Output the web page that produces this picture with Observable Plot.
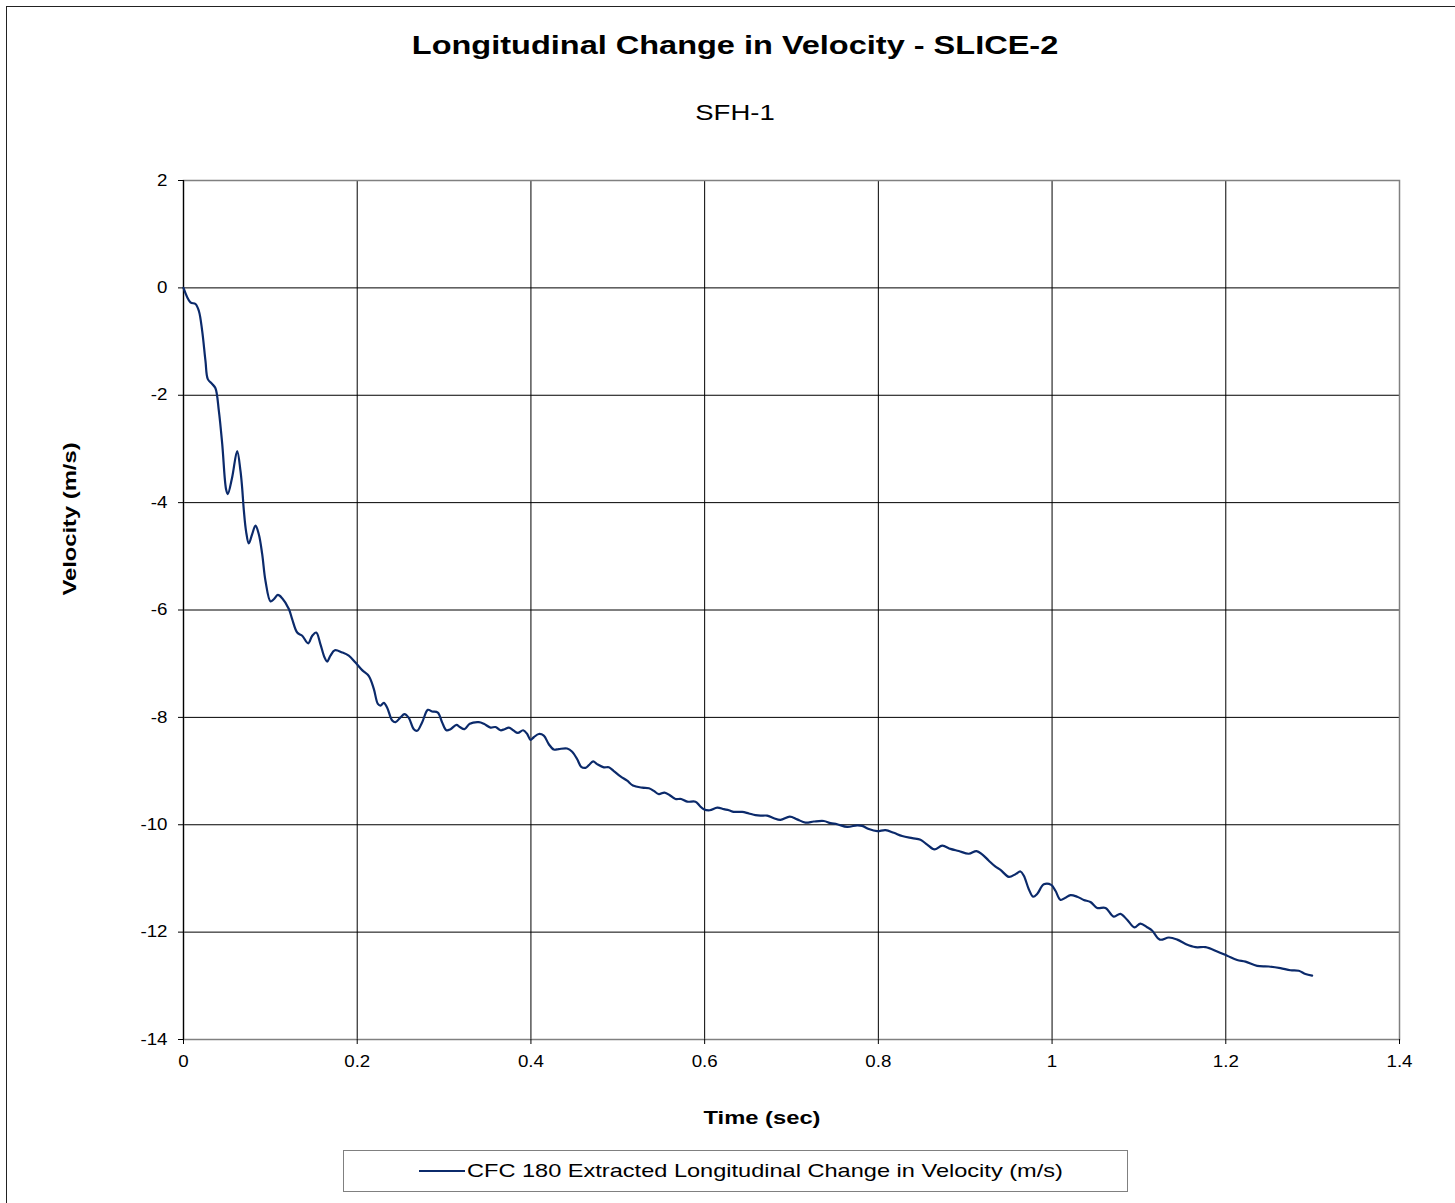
<!DOCTYPE html>
<html>
<head>
<meta charset="utf-8">
<script src="https://cdn.jsdelivr.net/npm/d3@7"></script>
<script src="https://cdn.jsdelivr.net/npm/@observablehq/plot@0.6"></script>
<style>
  html, body { margin: 0; padding: 0; background: #fff; overflow: hidden; }
  body { width: 1455px; height: 1203px; position: relative; font-family: "Liberation Sans", Arial, sans-serif; }
  #frame { position: absolute; left: 6px; top: 6px; width: 1460px; height: 1210px; border: 1px solid #222; box-sizing: border-box; }
  .centered { position: absolute; white-space: nowrap; color: #000; }
  #title { left: 735px; top: 45px; transform: translate(-50%, -50%) scaleX(1.25); font-weight: bold; font-size: 26px; }
  #subtitle { left: 735px; top: 113px; transform: translate(-50%, -50%) scaleX(1.25); font-size: 22px; }
  #chart { position: absolute; left: 0; top: 0; }
  #ylabel { left: 70px; top: 519px; transform: translate(-50%, -50%) rotate(-90deg) scaleX(1.25); font-weight: bold; font-size: 19px; }
  #xlabel { left: 762px; top: 1118px; transform: translate(-50%, -50%) scaleX(1.25); font-weight: bold; font-size: 19px; }
  #legend { position: absolute; left: 343px; top: 1150px; width: 785px; height: 42px; border: 1px solid #808080; box-sizing: border-box; display: flex; align-items: center; }
  #legend .swatch { margin-left: 75px; width: 46px; height: 0; border-top: 2px solid #0b2a6b; }
  #legend .txt { margin-left: 2px; font-size: 19px; color: #000; white-space: nowrap; transform: scaleX(1.24); transform-origin: left center; }
</style>
</head>
<body>
<div id="frame"></div>
<div id="title" class="centered">Longitudinal Change in Velocity - SLICE-2</div>
<div id="subtitle" class="centered">SFH-1</div>
<div id="chart"></div>
<div id="ylabel" class="centered">Velocity (m/s)</div>
<div id="xlabel" class="centered">Time (sec)</div>
<div id="legend"><div class="swatch"></div><div class="txt">CFC 180 Extracted Longitudinal Change in Velocity (m/s)</div></div>
<script>
const seriesName = "CFC 180 Extracted Longitudinal Change in Velocity (m/s)";
const xTicks = [0, 0.2, 0.4, 0.6, 0.8, 1, 1.2, 1.4];
const yTicks = [2, 0, -2, -4, -6, -8, -10, -12, -14];

const timeSec = [
  0, 0.008, 0.0138, 0.0177, 0.0215, 0.0253, 0.028, 0.033, 0.0368, 0.0407,
  0.0446, 0.049, 0.051, 0.056, 0.0618, 0.0656, 0.0675, 0.0695, 0.072, 0.0752,
  0.079, 0.0829, 0.0867, 0.0906, 0.0944, 0.1002, 0.104, 0.1086, 0.1136, 0.1213,
  0.1251, 0.1309, 0.1367, 0.1436, 0.1482, 0.1528, 0.1577, 0.1623, 0.1654, 0.1692,
  0.1742, 0.1827, 0.1903, 0.198, 0.2057, 0.2134, 0.2191, 0.2238, 0.2268, 0.2306,
  0.2345, 0.2403, 0.2441, 0.2498, 0.2544, 0.2594, 0.2652, 0.269, 0.2748, 0.2813,
  0.2863, 0.2928, 0.2977, 0.3027, 0.3074, 0.3143, 0.3181, 0.3235, 0.3296, 0.34,
  0.3458, 0.3535, 0.3592, 0.365, 0.3696, 0.3746, 0.3796, 0.3849, 0.391, 0.3957,
  0.3995, 0.4033, 0.4091, 0.4148, 0.4206, 0.4264, 0.4321, 0.4417, 0.4475, 0.4533,
  0.4579, 0.4628, 0.4667, 0.4716, 0.4762, 0.4839, 0.4897, 0.4954, 0.5031, 0.5108,
  0.5174, 0.5281, 0.5358, 0.5415, 0.5473, 0.5538, 0.5607, 0.5664, 0.5730, 0.5799,
  0.5895, 0.5945, 0.599, 0.6059, 0.6145, 0.6221, 0.6279, 0.6336, 0.6432, 0.6509,
  0.6586, 0.6643, 0.672, 0.6797, 0.6873, 0.698, 0.7065, 0.7161, 0.7257, 0.7372,
  0.7449, 0.7526, 0.7641, 0.7756, 0.7814, 0.789, 0.7987, 0.8082, 0.8178, 0.8274,
  0.839, 0.8485, 0.8562, 0.8646, 0.8735, 0.883, 0.8926, 0.9041, 0.913, 0.9195,
  0.9272, 0.9349, 0.9406, 0.9502, 0.9579, 0.9636, 0.9675, 0.9732, 0.9782, 0.9828,
  0.9905, 0.999, 1.0039, 1.0097, 1.0154, 1.0212, 1.0289, 1.0365, 1.0442, 1.0519,
  1.0615, 1.071, 1.0787, 1.0864, 1.0948, 1.1017, 1.1094, 1.1151, 1.1241, 1.1345,
  1.1441, 1.1537, 1.1652, 1.1767, 1.1901, 1.2016, 1.2131, 1.2227, 1.2361, 1.2495,
  1.2629, 1.2745, 1.284, 1.2917, 1.2994
];

const velocity = [
  0, -0.27, -0.30, -0.43, -0.80, -1.36, -1.70, -1.79, -1.87, -2.29,
  -2.91, -3.75, -3.84, -3.53, -3.04, -3.41, -3.72, -4.15, -4.53, -4.76,
  -4.59, -4.43, -4.59, -4.96, -5.46, -5.84, -5.80, -5.72, -5.78, -5.98,
  -6.17, -6.42, -6.48, -6.62, -6.48, -6.42, -6.64, -6.88, -6.96, -6.85,
  -6.75, -6.79, -6.85, -6.98, -7.12, -7.23, -7.47, -7.75, -7.78, -7.73,
  -7.82, -8.06, -8.09, -8.00, -7.94, -8.01, -8.22, -8.25, -8.09, -7.86,
  -7.89, -7.91, -8.09, -8.24, -8.22, -8.14, -8.18, -8.22, -8.12, -8.09,
  -8.12, -8.19, -8.18, -8.24, -8.22, -8.19, -8.24, -8.29, -8.24, -8.31,
  -8.42, -8.37, -8.31, -8.34, -8.50, -8.60, -8.59, -8.58, -8.64, -8.78,
  -8.92, -8.94, -8.89, -8.82, -8.87, -8.93, -8.93, -9.00, -9.10, -9.18,
  -9.27, -9.31, -9.32, -9.37, -9.43, -9.40, -9.46, -9.52, -9.52, -9.57,
  -9.57, -9.65, -9.71, -9.73, -9.68, -9.71, -9.73, -9.76, -9.76, -9.79,
  -9.82, -9.83, -9.83, -9.88, -9.91, -9.85, -9.90, -9.96, -9.94, -9.93,
  -9.97, -9.99, -10.04, -10.01, -10.02, -10.08, -10.12, -10.10, -10.15, -10.21,
  -10.25, -10.28, -10.37, -10.46, -10.39, -10.45, -10.49, -10.54, -10.49, -10.55,
  -10.67, -10.78, -10.84, -10.97, -10.92, -10.87, -10.95, -11.20, -11.34, -11.29,
  -11.11, -11.12, -11.23, -11.40, -11.36, -11.31, -11.34, -11.40, -11.44, -11.55,
  -11.55, -11.71, -11.66, -11.77, -11.91, -11.84, -11.91, -11.97, -12.14, -12.10,
  -12.14, -12.22, -12.28, -12.28, -12.36, -12.44, -12.52, -12.55, -12.63, -12.64,
  -12.67, -12.71, -12.72, -12.78, -12.81
];

const data = timeSec.map((t, i) => ({t, v: velocity[i], series: seriesName}));

const chart = Plot.plot({
  width: 1455,
  height: 1145,
  marginTop: 180,
  marginBottom: 106,
  marginLeft: 183,
  marginRight: 56,
  style: {fontFamily: "'Liberation Sans', Arial, sans-serif", fontSize: "16px", color: "#000", background: "transparent"},
  x: {domain: [0, 1.4], ticks: xTicks, tickFormat: d => String(d), label: null},
  y: {domain: [-14, 2], ticks: yTicks, tickFormat: d => String(d), label: null},
  marks: [
    Plot.gridX(xTicks, {stroke: "#000", strokeOpacity: 1, strokeWidth: 1}),
    Plot.gridY(yTicks, {stroke: "#000", strokeOpacity: 1, strokeWidth: 1}),
    Plot.frame({stroke: "#808080", strokeWidth: 1.5}),
    Plot.axisX({ticks: xTicks, tickFormat: d => String(d), tickSize: 5, tickPadding: 11, label: null, fontSize: 16}),
    Plot.axisY({ticks: yTicks, tickFormat: d => String(d), tickSize: 5, tickPadding: 11, label: null, fontSize: 16}),
    Plot.ruleX([0], {stroke: "#000", strokeWidth: 1.2}),
    Plot.line(data, {x: "t", y: "v", stroke: "#0b2a6b", strokeWidth: 2.2, curve: "catmull-rom"})
  ]
});

document.getElementById("chart").appendChild(chart);

// widen the tick labels horizontally (keeping their anchor) to match the reference lettering
chart.querySelectorAll("text").forEach(el => {
  const len = el.getComputedTextLength();
  if (len > 0) {
    el.setAttribute("textLength", (len * 1.17).toFixed(2));
    el.setAttribute("lengthAdjust", "spacingAndGlyphs");
  }
});
</script>
</body>
</html>
